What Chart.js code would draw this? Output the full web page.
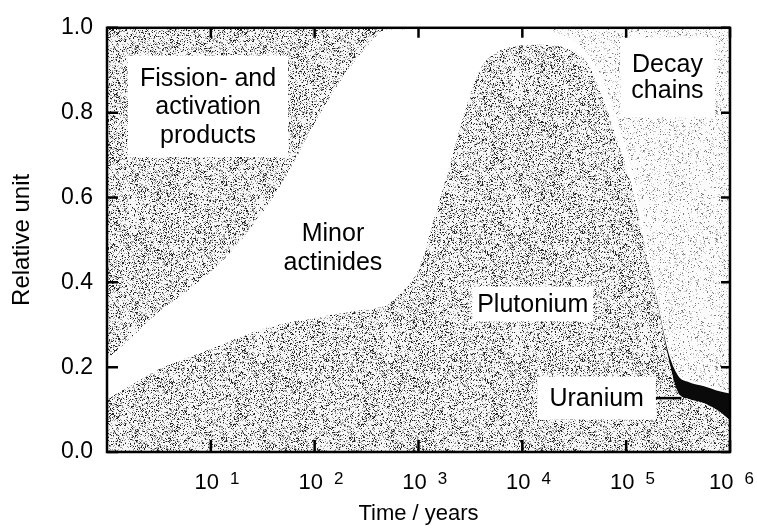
<!DOCTYPE html>
<html>
<head>
<meta charset="utf-8">
<title>Relative unit over time</title>
<script src="https://cdn.jsdelivr.net/npm/chart.js@4.4.1/dist/chart.umd.min.js"></script>
<style>
  html, body { margin: 0; padding: 0; background: #fff; }
  #wrap { width: 757px; height: 529px; }
</style>
</head>
<body>
<div id="wrap"><canvas id="chartKomposisi" width="757" height="529"></canvas></div>
<script>
// waktu dalam eksponen (tahun = 10^e)
const timeExp = [0, 0.25, 0.5, 0.75, 1, 1.25, 1.5, 1.75, 2, 2.25, 2.5, 2.7, 2.85,
  3, 3.15, 3.3, 3.45, 3.6, 3.75, 3.9, 4.1, 4.3, 4.5, 4.62, 4.75, 4.9,
  5.05, 5.2, 5.3, 5.4, 5.5, 5.6, 5.75, 5.9, 6];
const years = timeExp.map(e => Math.pow(10, e));

// tebal tiap lapisan (ditumpuk dari bawah)
const plutonium = [0.125, 0.16, 0.195, 0.22, 0.243, 0.268, 0.29, 0.305, 0.316, 0.327, 0.336, 0.348, 0.38,
  0.43, 0.55, 0.675, 0.805, 0.905, 0.942, 0.955, 0.96, 0.958, 0.945, 0.92, 0.85, 0.745,
  0.63, 0.465, 0.352, 0.228, 0.14, 0.125, 0.115, 0.095, 0.074];
const uranium = [0, 0, 0, 0, 0, 0, 0, 0, 0, 0, 0, 0, 0,
  0, 0, 0, 0, 0, 0, 0, 0, 0, 0, 0, 0, 0,
  0, 0, 0.004, 0.012, 0.04, 0.04, 0.04, 0.048, 0.064];
const minorActinides = [0.093, 0.113, 0.135, 0.155, 0.182, 0.219, 0.275, 0.355, 0.459, 0.548, 0.619, 0.648, 0.616,
  0.568, 0.45, 0.325, 0.195, 0.095, 0.058, 0.045, 0.04, 0.032, 0.023, 0.02, 0.04, 0.045,
  0.04, 0.025, 0.014, 0.005, 0.005, 0.005, 0.005, 0.005, 0.005];
const fissionProducts = [0.782, 0.727, 0.67, 0.625, 0.575, 0.513, 0.435, 0.34, 0.225, 0.125, 0.045, 0.004, 0.004,
  0.002, 0, 0, 0, 0, 0, 0, 0, 0, 0, 0, 0, 0,
  0, 0, 0, 0, 0, 0, 0, 0, 0];
const decayChains = [0, 0, 0, 0, 0, 0, 0, 0, 0, 0, 0, 0, 0,
  0, 0, 0, 0, 0, 0, 0, 0, 0.01, 0.032, 0.06, 0.11, 0.21,
  0.33, 0.51, 0.63, 0.755, 0.815, 0.83, 0.84, 0.852, 0.857];

const yTicks = [0, 0.2, 0.4, 0.6, 0.8, 1.0];
const xTickExp = [1, 2, 3, 4, 5, 6];

// label di dalam grafik (posisi dalam satuan data)
const notes = [
  { lines: ['Fission- and', 'activation', 'products'], t: 9.4, v: 0.815, lh: 28.5, box: true, px: 12, py: 8 },
  { lines: ['Minor', 'actinides'], t: 150, v: 0.483, lh: 29, box: false, px: 0, py: 0 },
  { lines: ['Plutonium'], t: 12600, v: 0.349, lh: 29, box: true, px: 5, py: 3 },
  { lines: ['Uranium'], t: 52000, v: 0.127, lh: 29, box: true, px: 12, py: 7, pointTo: 340000 },
  { lines: ['Decay', 'chains'], t: 250000, v: 0.883, lh: 26, box: true, px: 11, py: 14 }
];

const FONT = '"Liberation Sans", Arial, Helvetica, sans-serif';

// pola bintik (deterministik) untuk meniru arsiran
function hash(x, y, k) {
  let h = (x * 73856093) ^ (y * 19349663) ^ (k * 83492791);
  h = Math.imul(h ^ (h >>> 15), 2246822507);
  h = Math.imul(h ^ (h >>> 13), 3266489909);
  return ((h ^ (h >>> 16)) >>> 0) / 4294967296;
}
function stipple(base, dots) {
  const size = 128;
  const c = document.createElement('canvas');
  c.width = size; c.height = size;
  const g = c.getContext('2d');
  g.fillStyle = base;
  g.fillRect(0, 0, size, size);
  dots.forEach((d, k) => {
    g.fillStyle = d.color;
    for (let y = 0; y < size; y++) {
      for (let x = 0; x < size; x++) {
        if (hash(x, y, k + 1) < d.density) g.fillRect(x, y, 1, 1);
      }
    }
  });
  return g.createPattern(c, 'repeat');
}

const patDark = stipple('#f6f6f6', [{ color: '#9c9c9c', density: 0.2 }, { color: '#262626', density: 0.12 }]);
const patLight = stipple('#fbfbfb', [{ color: '#c8c8c8', density: 0.1 }, { color: '#7a7a7a', density: 0.05 }]);

const framePlugin = {
  id: 'frame',
  afterDatasetsDraw(chart) {
    const { ctx, chartArea: a, scales: { x, y } } = chart;
    ctx.save();

    // kotak label
    ctx.font = '25px ' + FONT;
    ctx.textAlign = 'center';
    ctx.textBaseline = 'middle';
    notes.forEach(n => {
      const cx = x.getPixelForValue(n.t);
      const cy = y.getPixelForValue(n.v);
      const w = Math.max(...n.lines.map(l => ctx.measureText(l).width));
      const h = n.lines.length * n.lh;
      const right = cx + w / 2 + n.px;
      if (n.box) {
        ctx.fillStyle = '#fff';
        ctx.fillRect(cx - w / 2 - n.px, cy - h / 2 - n.py, w + 2 * n.px, h + 2 * n.py);
      }
      ctx.fillStyle = '#000';
      n.lines.forEach((l, i) => ctx.fillText(l, cx, cy - h / 2 + n.lh * (i + 0.5) + 1));
      if (n.pointTo) {
        ctx.strokeStyle = '#000';
        ctx.lineWidth = 2.5;
        ctx.beginPath();
        ctx.moveTo(right, cy);
        ctx.lineTo(x.getPixelForValue(n.pointTo), cy);
        ctx.stroke();
      }
    });

    // bingkai
    ctx.strokeStyle = '#000';
    ctx.lineWidth = 2.5;
    ctx.strokeRect(a.left, a.top, a.right - a.left, a.bottom - a.top);

    // tick ke dalam
    ctx.beginPath();
    yTicks.forEach(v => {
      const py = y.getPixelForValue(v);
      ctx.moveTo(a.left, py); ctx.lineTo(a.left + 11, py);
      ctx.moveTo(a.right, py); ctx.lineTo(a.right - 9, py);
    });
    xTickExp.forEach(e => {
      const px = x.getPixelForValue(Math.pow(10, e));
      ctx.moveTo(px, a.bottom); ctx.lineTo(px, a.bottom - 12);
      ctx.moveTo(px, a.top); ctx.lineTo(px, a.top + 10);
    });
    ctx.stroke();

    // label sumbu x: 10 pangkat n
    ctx.textBaseline = 'middle';
    ctx.fillStyle = '#000';
    xTickExp.forEach(e => {
      const px = x.getPixelForValue(Math.pow(10, e));
      ctx.font = '22px ' + FONT;
      const wBase = ctx.measureText('10').width;
      ctx.font = '17px ' + FONT;
      const wExp = ctx.measureText(String(e)).width;
      let cx = px - 4;
      const overflow = cx + wBase / 2 + 11 + wExp - (chart.width - 3);
      if (overflow > 0) cx -= overflow;
      ctx.font = '22px ' + FONT;
      ctx.textAlign = 'center';
      ctx.fillText('10', cx, a.bottom + 31);
      ctx.font = '17px ' + FONT;
      ctx.textAlign = 'left';
      ctx.fillText(String(e), cx + wBase / 2 + 11, a.bottom + 27);
    });

    ctx.restore();
  }
};

const ctx = document.getElementById('chartKomposisi').getContext('2d');

function layer(label, data, fill, color) {
  return {
    label: label,
    data: data,
    fill: fill,
    backgroundColor: color,
    borderColor: 'rgba(0,0,0,0)',
    borderWidth: 0,
    pointRadius: 0,
    cubicInterpolationMode: 'monotone'
  };
}

const myChart = new Chart(ctx, {
  type: 'line',
  data: {
    labels: years,
    datasets: [
      layer('Plutonium', plutonium, 'origin', patDark),
      layer('Uranium', uranium, '-1', '#0a0a0a'),
      layer('Minor actinides', minorActinides, '-1', '#ffffff'),
      layer('Fission- and activation products', fissionProducts, '-1', patDark),
      layer('Decay chains', decayChains, '-1', patLight)
    ]
  },
  options: {
    responsive: false,
    animation: false,
    layout: { padding: { top: 17, right: 27, left: 0, bottom: 0 } },
    plugins: {
      legend: { display: false },
      tooltip: { enabled: false }
    },
    scales: {
      x: {
        type: 'logarithmic',
        min: 1,
        max: 1e6,
        grid: { display: false },
        border: { display: false },
        ticks: { display: false },
        afterBuildTicks: scale => {
          scale.ticks = [0, 1, 2, 3, 4, 5, 6].map(e => ({ value: Math.pow(10, e) }));
        },
        afterFit: scale => { scale.height = 77; },
        title: {
          display: true,
          text: 'Time / years',
          color: '#000',
          font: { family: FONT, size: 22 },
          padding: { top: 0, bottom: 2 }
        }
      },
      y: {
        stacked: true,
        min: 0,
        max: 1,
        grid: { display: false, drawTicks: false },
        border: { display: false },
        afterBuildTicks: scale => {
          scale.ticks = yTicks.map(v => ({ value: v }));
        },
        afterFit: scale => { scale.width = 107; },
        ticks: {
          color: '#000',
          padding: 14,
          font: { family: FONT, size: 23 },
          callback: v => Number(v).toFixed(1)
        },
        title: {
          display: true,
          text: 'Relative unit',
          color: '#000',
          font: { family: FONT, size: 24 },
          padding: { top: 8, bottom: 0 }
        }
      }
    }
  },
  plugins: [framePlugin]
});
</script>
</body>
</html>
